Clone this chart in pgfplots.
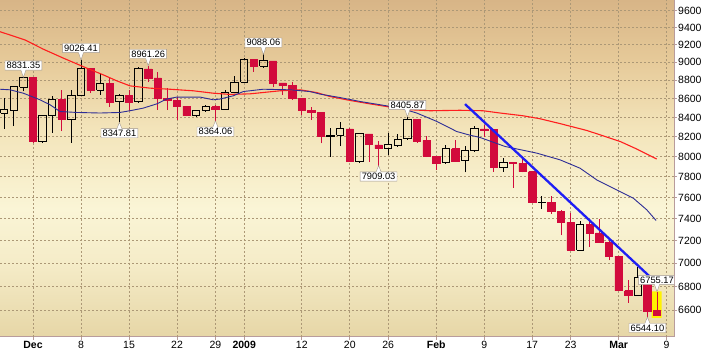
\documentclass[border=0pt]{standalone}
\usepackage{fontspec}
\setmainfont{Liberation Sans}
\usepackage{pgfplots}
\pgfplotsset{compat=1.18}
\usetikzlibrary{shapes.callouts}

\definecolor{cred}{RGB}{210,10,60}
\definecolor{mared}{RGB}{255,30,30}
\definecolor{mablue}{RGB}{45,45,150}
\definecolor{trblue}{RGB}{30,30,245}
\definecolor{axc}{RGB}{184,156,156}
\definecolor{gridc}{RGB}{172,152,118}
\definecolor{lblgray}{RGB}{160,150,140}
\definecolor{c0}{RGB}{216,181,135}
\definecolor{c1}{RGB}{230,202,153}
\definecolor{c2}{RGB}{243,228,186}
\definecolor{c3}{RGB}{250,245,214}
\definecolor{c4}{RGB}{245,236,200}
\definecolor{cB}{RGB}{230,214,166}

\pgfdeclareverticalshading{bgshade}{100bp}{color(0bp)=(cB); color(25bp)=(cB); color(36bp)=(c4); color(44bp)=(c3); color(56bp)=(c2); color(66bp)=(c1); color(75bp)=(c0); color(100bp)=(c0)}

% candle: idx, open, high, low, close
\newcommand\cndl[5]{%
  \pgfmathsetmacro\xl{#1-0.38}\pgfmathsetmacro\xr{#1+0.38}%
  \ifdim #5pt<#2pt
    \edef\tmp{\noexpand\addplot[cred, line width=1pt, forget plot] coordinates {(#1,#4) (#1,#3)};
      \noexpand\addplot[fill=cred, draw=cred, line width=0.6pt, line join=miter, forget plot] coordinates {(\xl,#2) (\xr,#2) (\xr,#5) (\xl,#5) (\xl,#2)};}%
  \else
    \edef\tmp{\noexpand\addplot[black, line width=1pt, forget plot] coordinates {(#1,#4) (#1,#2)};
      \noexpand\addplot[black, line width=1pt, forget plot] coordinates {(#1,#5) (#1,#3)};
      \noexpand\addplot[black, line width=1pt, line join=miter, forget plot] coordinates {(\xl,#2) (\xr,#2) (\xr,#5) (\xl,#5) (\xl,#2)};}%
  \fi
  \tmp}

\tikzset{lbl/.style={rectangle callout, draw=lblgray, fill=white, font=\fontsize{9.3}{10}\selectfont, inner xsep=1.6pt, inner ysep=1.3pt, text height=6.6pt, text depth=0pt, callout pointer width=5pt},
  gridline/.style={gridc, line width=1pt, dash pattern=on 2pt off 2pt}}

\begin{document}
\begin{tikzpicture}
\useasboundingbox (0,-15pt) rectangle (706pt,337pt);
\shade[shading=bgshade] (0,0) rectangle (674pt,337pt);
\begin{axis}[
  at={(0,0)}, anchor=south west,
  scale only axis, width=674pt, height=337pt,
  xmin=-3.4375, xmax=66.77,
  ymode=log, ymin=6384, ymax=9729,
  axis x line*=bottom, axis y line*=right,
  axis line style={axc, line width=1pt},
  xtick={0,5,10,15,19,22,28,33,37,42,47,52,56,61,66},
  xticklabels={\textbf{Dec},8,15,22,29,\textbf{2009},12,20,26,\textbf{Feb},9,17,23,\textbf{Mar},9},
  ytick={6600,6800,7000,7200,7400,7600,7800,8000,8200,8400,8600,8800,9000,9200,9400,9600},
  yticklabels={6600,6800,7000,7200,7400,7600,7800,8000,8200,8400,8600,8800,9000,9200,9400,9600},
  minor tick num=0,
  tick align=outside, major tick length=3pt,
  tick style={axc, line width=0.8pt},
  tick label style={font=\fontsize{10.5}{12}\selectfont, black},
  xticklabel style={inner sep=1pt},
  yticklabel style={inner sep=1pt},
]
% grid
\pgfplotsinvokeforeach{0,5,10,15,19,22,28,33,37,42,47,52,56,61,66}{
  \addplot[gridline, forget plot] coordinates {(#1,6384) (#1,9729)};}
\pgfplotsinvokeforeach{6600,6800,7000,7200,7400,7600,7800,8000,8200,8400,8600,8800,9000,9200,9400,9600}{
  \addplot[gridline, forget plot] coordinates {(-3.4375,#1) (66.77,#1)};}

% highlight of last bar
\addplot[fill=yellow, draw=none, forget plot] coordinates {(64.45,6537) (65.48,6537) (65.48,6759) (64.45,6759) (64.45,6537)};

\cndl{-3}{8446}{8605}{8281}{8479}
\cndl{-2}{8474}{8726}{8309}{8726}
\cndl{-1}{8723}{8831.35}{8677}{8829}
\cndl{0}{8829}{8829}{8140}{8149}
\cndl{1}{8150}{8430}{8140}{8419}
\cndl{2}{8417}{8633}{8240}{8592}
\cndl{3}{8592}{8695}{8257}{8376}
\cndl{4}{8376}{8695}{8140}{8635}
\cndl{5}{8635}{9026.41}{8630}{8934}
\cndl{6}{8934}{8940}{8660}{8691}
\cndl{7}{8691}{8866}{8640}{8761}
\cndl{8}{8761}{8820}{8515}{8565}
\cndl{9}{8565}{8650}{8347.81}{8630}
\cndl{10}{8630}{8695}{8471}{8565}
\cndl{11}{8565}{8950}{8560}{8924}
\cndl{12}{8924}{8961.26}{8780}{8824}
\cndl{13}{8824}{8891}{8481}{8605}
\cndl{14}{8605}{8710}{8481}{8579}
\cndl{15}{8579}{8622}{8375}{8520}
\cndl{16}{8520}{8525}{8410}{8419}
\cndl{17}{8419}{8480}{8410}{8468}
\cndl{18}{8468}{8530}{8460}{8515}
\cndl{19}{8515}{8530}{8364.06}{8484}
\cndl{20}{8484}{8690}{8480}{8668}
\cndl{21}{8668}{8845}{8665}{8776}
\cndl{22}{8777}{9045}{8770}{9035}
\cndl{23}{9035}{9040}{8891}{8953}
\cndl{24}{8953}{9088.06}{8940}{9015}
\cndl{25}{9015}{9018}{8720}{8770}
\cndl{26}{8770}{8772}{8640}{8742}
\cndl{27}{8745}{8776}{8590}{8599}
\cndl{28}{8605}{8610}{8421}{8474}
\cndl{29}{8474}{8515}{8375}{8449}
\cndl{30}{8449}{8452}{8132}{8200}
\cndl{31}{8200}{8292}{7998}{8212}
\cndl{32}{8212}{8354}{8104}{8281}
\cndl{33}{8281}{8285}{7945}{7949}
\cndl{34}{7949}{8240}{7940}{8228}
\cndl{35}{8228}{8230}{7950}{8123}
\cndl{36}{8115}{8160}{7909.03}{8078}
\cndl{37}{8078}{8238}{8018}{8116}
\cndl{38}{8110}{8228}{8095}{8175}
\cndl{39}{8176}{8405.87}{8170}{8375}
\cndl{40}{8375}{8380}{8140}{8149}
\cndl{41}{8160}{8203}{7995}{8001}
\cndl{42}{8001}{8005}{7868}{7937}
\cndl{43}{7937}{8113}{7930}{8078}
\cndl{44}{8078}{8169}{7950}{7957}
\cndl{45}{7957}{8105}{7843}{8063}
\cndl{46}{8056}{8313}{8050}{8281}
\cndl{47}{8281}{8323}{8197}{8270}
\cndl{48}{8271}{8273}{7851}{7889}
\cndl{49}{7889}{7983}{7851}{7940}
\cndl{50}{7940}{7945}{7692}{7933}
\cndl{51}{7933}{7973}{7843}{7850}
\cndl{52}{7850}{7852}{7547}{7553}
\cndl{53}{7553}{7617}{7490}{7556}
\cndl{54}{7555}{7617}{7448}{7466}
\cndl{55}{7466}{7480}{7249}{7366}
\cndl{56}{7366}{7456}{7110}{7115}
\cndl{57}{7115}{7376}{7110}{7351}
\cndl{58}{7351}{7398}{7146}{7271}
\cndl{59}{7271}{7398}{7180}{7182}
\cndl{60}{7182}{7218}{7026}{7063}
\cndl{61}{7063}{7065}{6758}{6763}
\cndl{62}{6763}{6858}{6663}{6726}
\cndl{63}{6726}{6970}{6720}{6876}
\cndl{64}{6850}{6860}{6544.10}{6594}
\cndl{65}{6602}{6755.17}{6555}{6560}

% 50-day moving average (red)
\addplot[mared, line width=1.1pt] coordinates {
(-3.44,9350) (-0.83,9254) (1.07,9148) (3.16,9046) (5.59,8934) (7.32,8859)
(8.72,8793) (10.1,8738) (12.19,8713) (14.27,8701) (16.7,8684) (18.78,8658)
(20.52,8645) (22.6,8651) (25.73,8684) (27.81,8695) (29.55,8665) (30.94,8622)
(33.02,8580) (35.1,8543) (37.19,8509) (39.27,8481) (41.35,8470) (44.48,8475)
(46.88,8470) (48.65,8446) (51.04,8417) (52.8,8386) (54.9,8335) (57.68,8264)
(59.06,8219) (61.15,8151) (62.89,8074) (64.97,7975)};

% 20-day moving average (blue)
\addplot[mablue, line width=0.9pt] coordinates {
(-3.44,8701) (-2.40,8695) (-1.01,8658) (0.73,8587) (1.77,8534) (2.81,8462)
(4.55,8452) (6.98,8446) (9.06,8452) (10.1,8470) (11.49,8498) (12.89,8543)
(13.93,8595) (14.97,8616) (17.4,8616) (18.78,8587) (19.48,8595) (20.86,8630)
(21.91,8676) (23.99,8701) (26.77,8695) (28.85,8676) (29.9,8648) (31.98,8611)
(34.06,8569) (36.15,8534) (38.23,8498) (39.97,8446) (42.05,8358) (44.14,8253)
(45.52,8215) (46.56,8192) (49.17,8100) (52.47,8033) (54.9,7967) (56.98,7885)
(58.72,7770) (59.76,7721) (62.53,7594) (63.93,7484) (64.9,7385)};

% trend line
\addplot[trblue, line width=2.3pt] coordinates {(45.0,8541) (64.9,6834)};

% value labels
\node[lbl, anchor=south, callout absolute pointer={(axis cs:-1,8831.35)}] at ([yshift=7pt]axis cs:-1,8831.35) {8831.35};
\node[lbl, anchor=south, callout absolute pointer={(axis cs:5,9026.41)}] at ([yshift=7pt]axis cs:5,9026.41) {9026.41};
\node[lbl, anchor=south, callout absolute pointer={(axis cs:12,8961.26)}] at ([yshift=7pt]axis cs:12,8961.26) {8961.26};
\node[lbl, anchor=south, callout absolute pointer={(axis cs:24,9088.06)}] at ([yshift=7pt]axis cs:24,9088.06) {9088.06};
\node[lbl, anchor=south, callout absolute pointer={(axis cs:39,8405.87)}] at ([yshift=7pt]axis cs:39,8405.87) {8405.87};
\node[lbl, anchor=south, callout absolute pointer={(axis cs:65,6755.17)}] at ([yshift=7pt]axis cs:65,6755.17) {6755.17};
\node[lbl, anchor=north, callout absolute pointer={(axis cs:9,8347.81)}] at ([yshift=-6pt]axis cs:9,8347.81) {8347.81};
\node[lbl, anchor=north, callout absolute pointer={(axis cs:19,8364.06)}] at ([yshift=-6pt]axis cs:19,8364.06) {8364.06};
\node[lbl, anchor=north, callout absolute pointer={(axis cs:36,7909.03)}] at ([yshift=-6pt]axis cs:36,7909.03) {7909.03};
\node[lbl, anchor=north, callout absolute pointer={(axis cs:64,6544.10)}] at ([yshift=-6pt]axis cs:64,6544.10) {6544.10};
\end{axis}
\end{tikzpicture}
\end{document}
